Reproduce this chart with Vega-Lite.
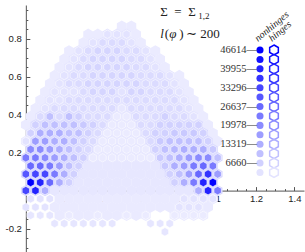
{
"$schema":"https://vega.github.io/schema/vega-lite/v6.json",
"width":282,"height":247,"autosize":"none",
"padding":{"left":22,"top":5,"right":1,"bottom":0},
"background":"white",
"config":{"view":{"stroke":null},"axis":{"grid":false,"domainColor":"#555","tickColor":"#555","labelColor":"#222","labelFont":"Liberation Sans","labelFontSize":9.5,"zindex":1}},
"datasets":{"cells":[
{"x":0.5,"y":0.866,"h":1700},{"x":0.55,"y":0.866,"h":1700},
{"x":0.325,"y":0.823,"h":1700},{"x":0.375,"y":0.823,"h":1700},{"x":0.425,"y":0.823,"h":3000,"n":3330},{"x":0.475,"y":0.823,"h":3000,"n":3330},{"x":0.525,"y":0.823,"h":3000,"n":3330},{"x":0.575,"y":0.823,"h":1700},
{"x":0.3,"y":0.779,"h":1700},{"x":0.35,"y":0.779,"h":3000,"n":3330},{"x":0.4,"y":0.779,"h":4000,"n":4700},{"x":0.45,"y":0.779,"h":4000,"n":4700},{"x":0.5,"y":0.779,"h":4000,"n":4700},{"x":0.55,"y":0.779,"h":3000,"n":3330},{"x":0.6,"y":0.779,"h":1700},
{"x":0.225,"y":0.736,"h":1700},{"x":0.275,"y":0.736,"h":3000,"n":3330},{"x":0.325,"y":0.736,"h":4000,"n":4700},{"x":0.375,"y":0.736,"h":4000,"n":6000},{"x":0.425,"y":0.736,"h":4000,"n":6000},{"x":0.475,"y":0.736,"h":4000,"n":6000},{"x":0.525,"y":0.736,"h":4000,"n":4700},{"x":0.575,"y":0.736,"h":4000,"n":4700},{"x":0.625,"y":0.736,"h":3000,"n":3330},{"x":0.675,"y":0.736,"h":1700},
{"x":0.2,"y":0.693,"h":1700},{"x":0.25,"y":0.693,"h":3000,"n":3330},{"x":0.3,"y":0.693,"h":4000,"n":4700},{"x":0.35,"y":0.693,"h":4000,"n":6000},{"x":0.4,"y":0.693,"h":4000,"n":6000},{"x":0.45,"y":0.693,"h":4000,"n":6000},{"x":0.5,"y":0.693,"h":4000,"n":6000},{"x":0.55,"y":0.693,"h":4000,"n":4700},{"x":0.6,"y":0.693,"h":4000,"n":4700},{"x":0.65,"y":0.693,"h":3000,"n":3330},{"x":0.7,"y":0.693,"h":1700},
{"x":0.175,"y":0.65,"h":1700},{"x":0.225,"y":0.65,"h":3000,"n":3330},{"x":0.275,"y":0.65,"h":4000,"n":4700},{"x":0.325,"y":0.65,"h":4000,"n":6000},{"x":0.375,"y":0.65,"h":4000,"n":6000},{"x":0.425,"y":0.65,"h":4000,"n":6000},{"x":0.475,"y":0.65,"h":4000,"n":6000},{"x":0.525,"y":0.65,"h":4000,"n":6000},{"x":0.575,"y":0.65,"h":4000,"n":4700},{"x":0.625,"y":0.65,"h":4000,"n":4700},{"x":0.675,"y":0.65,"h":3000,"n":3330},{"x":0.725,"y":0.65,"h":1700},
{"x":0.15,"y":0.606,"h":1700},{"x":0.2,"y":0.606,"h":3000,"n":3330},{"x":0.25,"y":0.606,"h":4000,"n":4700},{"x":0.3,"y":0.606,"h":4000,"n":4700},{"x":0.35,"y":0.606,"h":4000,"n":6000},{"x":0.4,"y":0.606,"h":4000,"n":6000},{"x":0.45,"y":0.606,"h":4000,"n":6000},{"x":0.5,"y":0.606,"h":4000,"n":6000},{"x":0.55,"y":0.606,"h":4000,"n":6000},{"x":0.6,"y":0.606,"h":4000,"n":4700},{"x":0.65,"y":0.606,"h":4000,"n":4700},{"x":0.7,"y":0.606,"h":4000,"n":4700},{"x":0.75,"y":0.606,"h":3000,"n":3330},{"x":0.8,"y":0.606,"h":1700},
{"x":0.125,"y":0.563,"h":1700},{"x":0.175,"y":0.563,"h":3000,"n":3330},{"x":0.225,"y":0.563,"h":4000,"n":4700},{"x":0.275,"y":0.563,"h":4000,"n":4700},{"x":0.325,"y":0.563,"h":4000,"n":6000},{"x":0.375,"y":0.563,"h":4000,"n":6000},{"x":0.425,"y":0.563,"h":4000,"n":6000},{"x":0.475,"y":0.563,"h":4000,"n":6000},{"x":0.525,"y":0.563,"h":4000,"n":6000},{"x":0.575,"y":0.563,"h":4000,"n":6000},{"x":0.625,"y":0.563,"h":4000,"n":4700},{"x":0.675,"y":0.563,"h":4000,"n":4700},{"x":0.725,"y":0.563,"h":4000,"n":4700},{"x":0.775,"y":0.563,"h":3000,"n":3330},{"x":0.825,"y":0.563,"h":1700},
{"x":0.1,"y":0.52,"h":1700},{"x":0.15,"y":0.52,"h":3000,"n":3330},{"x":0.2,"y":0.52,"h":3000,"n":3330},{"x":0.25,"y":0.52,"h":3000,"n":3330},{"x":0.3,"y":0.52,"h":4000,"n":4700},{"x":0.35,"y":0.52,"h":4000,"n":6000},{"x":0.4,"y":0.52,"h":4000,"n":6000},{"x":0.45,"y":0.52,"h":4000,"n":6000},{"x":0.5,"y":0.52,"h":4000,"n":3330},{"x":0.55,"y":0.52,"h":4000,"n":6000},{"x":0.6,"y":0.52,"h":4000,"n":6000},{"x":0.65,"y":0.52,"h":4000,"n":4700},{"x":0.7,"y":0.52,"h":4000,"n":4700},{"x":0.75,"y":0.52,"h":4000,"n":4700},{"x":0.8,"y":0.52,"h":3000,"n":3330},{"x":0.85,"y":0.52,"h":1700},
{"x":0.075,"y":0.476,"h":1700},{"x":0.125,"y":0.476,"h":3000,"n":3330},{"x":0.175,"y":0.476,"h":3000,"n":3330},{"x":0.225,"y":0.476,"h":4000,"n":4700},{"x":0.275,"y":0.476,"h":4000,"n":4700},{"x":0.325,"y":0.476,"h":4000,"n":4700},{"x":0.375,"y":0.476,"h":4000,"n":4700},{"x":0.425,"y":0.476,"h":4000,"n":4700},{"x":0.475,"y":0.476,"h":4000,"n":4700},{"x":0.525,"y":0.476,"h":4000,"n":4700},{"x":0.575,"y":0.476,"h":4000,"n":4700},{"x":0.625,"y":0.476,"h":4000,"n":4700},{"x":0.675,"y":0.476,"h":4000,"n":4700},{"x":0.725,"y":0.476,"h":4000,"n":4700},{"x":0.775,"y":0.476,"h":4000,"n":4700},{"x":0.825,"y":0.476,"h":3000,"n":3330},{"x":0.875,"y":0.476,"h":1700},
{"x":0.05,"y":0.433,"h":1700},{"x":0.1,"y":0.433,"h":3000,"n":3330},{"x":0.15,"y":0.433,"h":4000,"n":4700},{"x":0.2,"y":0.433,"h":4000,"n":4700},{"x":0.25,"y":0.433,"h":4000,"n":4700},{"x":0.3,"y":0.433,"h":4000,"n":4700},{"x":0.35,"y":0.433,"h":4000,"n":4700},{"x":0.4,"y":0.433,"h":4000,"n":4700},{"x":0.45,"y":0.433,"h":4000,"n":4700},{"x":0.5,"y":0.433,"h":3000,"n":2300},{"x":0.55,"y":0.433,"h":4000,"n":4700},{"x":0.6,"y":0.433,"h":4000,"n":4700},{"x":0.65,"y":0.433,"h":4000,"n":4700},{"x":0.7,"y":0.433,"h":4000,"n":4700},{"x":0.75,"y":0.433,"h":4000,"n":4700},{"x":0.8,"y":0.433,"h":4000,"n":4700},{"x":0.85,"y":0.433,"h":3000,"n":3330},{"x":0.9,"y":0.433,"h":1700},
{"x":0.025,"y":0.39,"h":1700},{"x":0.075,"y":0.39,"h":4000,"n":4700},{"x":0.125,"y":0.39,"h":5330,"n":10000},{"x":0.175,"y":0.39,"h":4000,"n":4700},{"x":0.225,"y":0.39,"h":5330,"n":10000},{"x":0.275,"y":0.39,"h":5330,"n":6660},{"x":0.325,"y":0.39,"h":4000,"n":4700},{"x":0.375,"y":0.39,"h":4000,"n":4700},{"x":0.425,"y":0.39,"h":4000,"n":4700},{"x":0.475,"y":0.39,"h":2700,"n":1800},{"x":0.525,"y":0.39,"h":2700,"n":1800},{"x":0.575,"y":0.39,"h":4000,"n":4700},{"x":0.625,"y":0.39,"h":4000,"n":4700},{"x":0.675,"y":0.39,"h":4000,"n":4700},{"x":0.725,"y":0.39,"h":5330,"n":6660},{"x":0.775,"y":0.39,"h":4000,"n":4700},{"x":0.825,"y":0.39,"h":4000,"n":4700},{"x":0.875,"y":0.39,"h":3000,"n":3330},{"x":0.925,"y":0.39,"h":1700},
{"x":0,"y":0.346,"h":1700},{"x":0.05,"y":0.346,"h":5330,"n":6660},{"x":0.1,"y":0.346,"h":5330,"n":10000},{"x":0.15,"y":0.346,"h":5330,"n":10000},{"x":0.2,"y":0.346,"h":5330,"n":10000},{"x":0.25,"y":0.346,"h":5330,"n":10000},{"x":0.3,"y":0.346,"h":5330,"n":8300},{"x":0.35,"y":0.346,"h":5330,"n":6660},{"x":0.4,"y":0.346,"h":4000,"n":4700},{"x":0.45,"y":0.346,"h":2700,"n":1800},{"x":0.5,"y":0.346,"h":2700,"n":1800},{"x":0.55,"y":0.346,"h":2700,"n":1800},{"x":0.6,"y":0.346,"h":4000,"n":4700},{"x":0.65,"y":0.346,"h":4000,"n":4700},{"x":0.7,"y":0.346,"h":5330,"n":6660},{"x":0.75,"y":0.346,"h":5330,"n":6660},{"x":0.8,"y":0.346,"h":5330,"n":6660},{"x":0.85,"y":0.346,"h":5330,"n":6660},{"x":0.9,"y":0.346,"h":5330,"n":6660},{"x":0.95,"y":0.346,"h":1700},
{"x":0.025,"y":0.303,"h":3000,"n":6660},{"x":0.075,"y":0.303,"h":5330,"n":13300},{"x":0.125,"y":0.303,"h":5330,"n":13300},{"x":0.175,"y":0.303,"h":5330,"n":13300},{"x":0.225,"y":0.303,"h":5330,"n":10000},{"x":0.275,"y":0.303,"h":5330,"n":10000},{"x":0.325,"y":0.303,"h":5330,"n":6660},{"x":0.375,"y":0.303,"h":4000,"n":4700},{"x":0.425,"y":0.303,"h":2700,"n":1800},{"x":0.475,"y":0.303,"h":2700,"n":1800},{"x":0.525,"y":0.303,"h":2700,"n":1800},{"x":0.575,"y":0.303,"h":2700,"n":1800},{"x":0.625,"y":0.303,"h":4000,"n":4700},{"x":0.675,"y":0.303,"h":5330,"n":6660},{"x":0.725,"y":0.303,"h":5330,"n":6660},{"x":0.775,"y":0.303,"h":5330,"n":8300},{"x":0.825,"y":0.303,"h":5330,"n":8300},{"x":0.875,"y":0.303,"h":5330,"n":8300},{"x":0.925,"y":0.303,"h":5330,"n":6660},{"x":0.975,"y":0.303,"h":1700},
{"x":0,"y":0.26,"h":2000,"n":3330},{"x":0.05,"y":0.26,"h":5330,"n":16650},{"x":0.1,"y":0.26,"h":5330,"n":16650},{"x":0.15,"y":0.26,"h":5330,"n":13300},{"x":0.2,"y":0.26,"h":5330,"n":13300},{"x":0.25,"y":0.26,"h":5330,"n":10000},{"x":0.3,"y":0.26,"h":5330,"n":6660},{"x":0.35,"y":0.26,"h":4000,"n":4700},{"x":0.4,"y":0.26,"h":2700,"n":1800},{"x":0.45,"y":0.26,"h":2700,"n":1800},{"x":0.5,"y":0.26,"h":2700,"n":1800},{"x":0.55,"y":0.26,"h":2700,"n":1800},{"x":0.6,"y":0.26,"h":2700,"n":1800},{"x":0.65,"y":0.26,"h":5330,"n":5000},{"x":0.7,"y":0.26,"h":5330,"n":8300},{"x":0.75,"y":0.26,"h":5330,"n":10000},{"x":0.8,"y":0.26,"h":5330,"n":10000},{"x":0.85,"y":0.26,"h":5330,"n":10000},{"x":0.9,"y":0.26,"h":5330,"n":10000},{"x":0.95,"y":0.26,"h":5330,"n":6660},{"x":1,"y":0.26,"h":1700},
{"x":0.025,"y":0.217,"h":5330,"n":20000},{"x":0.075,"y":0.217,"h":5330,"n":20000},{"x":0.125,"y":0.217,"h":5330,"n":16650},{"x":0.175,"y":0.217,"h":5330,"n":13300},{"x":0.225,"y":0.217,"h":5330,"n":10000},{"x":0.275,"y":0.217,"h":5330,"n":6660},{"x":0.325,"y":0.217,"h":5330,"n":5000},{"x":0.375,"y":0.217,"h":2700,"n":1800},{"x":0.425,"y":0.217,"h":2700,"n":1800},{"x":0.475,"y":0.217,"h":2700,"n":1800},{"x":0.525,"y":0.217,"h":2700,"n":1800},{"x":0.575,"y":0.217,"h":2700,"n":1800},{"x":0.625,"y":0.217,"h":2700,"n":1800},{"x":0.675,"y":0.217,"h":5330,"n":6660},{"x":0.725,"y":0.217,"h":5330,"n":10000},{"x":0.775,"y":0.217,"h":5330,"n":11650},{"x":0.825,"y":0.217,"h":5330,"n":13300},{"x":0.875,"y":0.217,"h":5330,"n":13300},{"x":0.925,"y":0.217,"h":5330,"n":13300},{"x":0.975,"y":0.217,"h":5330,"n":8300},
{"x":0,"y":0.173,"h":5330,"n":23300},{"x":0.05,"y":0.173,"h":5330,"n":23300},{"x":0.1,"y":0.173,"h":5330,"n":20000},{"x":0.15,"y":0.173,"h":5330,"n":16650},{"x":0.2,"y":0.173,"h":5330,"n":13300},{"x":0.25,"y":0.173,"h":5330,"n":10000},{"x":0.3,"y":0.173,"h":5330,"n":6660},{"x":0.35,"y":0.173,"h":2700,"n":1800},{"x":0.4,"y":0.173,"h":2700,"n":1800},{"x":0.45,"y":0.173,"h":2700,"n":1800},{"x":0.5,"y":0.173,"h":2700,"n":1800},{"x":0.55,"y":0.173,"h":2700,"n":1800},{"x":0.6,"y":0.173,"h":2700,"n":1800},{"x":0.65,"y":0.173,"h":2700,"n":1800},{"x":0.7,"y":0.173,"h":5330,"n":8300},{"x":0.75,"y":0.173,"h":5330,"n":10000},{"x":0.8,"y":0.173,"h":5330,"n":13300},{"x":0.85,"y":0.173,"h":5330,"n":16650},{"x":0.9,"y":0.173,"h":5330,"n":20000},{"x":0.95,"y":0.173,"h":5330,"n":20000},{"x":1,"y":0.173,"h":5330,"n":10000},
{"x":0.025,"y":0.13,"h":5330,"n":26600},{"x":0.075,"y":0.13,"h":5330,"n":26600},{"x":0.125,"y":0.13,"h":5330,"n":23300},{"x":0.175,"y":0.13,"h":5330,"n":16650},{"x":0.225,"y":0.13,"h":5330,"n":10000},{"x":0.275,"y":0.13,"h":5330,"n":6660},{"x":0.325,"y":0.13,"h":2500},{"x":0.375,"y":0.13,"h":2500},{"x":0.425,"y":0.13,"h":2500},{"x":0.475,"y":0.13,"h":2500},{"x":0.525,"y":0.13,"h":2500},{"x":0.575,"y":0.13,"h":2500},{"x":0.625,"y":0.13,"h":2500},{"x":0.675,"y":0.13,"h":2500},{"x":0.725,"y":0.13,"h":5330,"n":8300},{"x":0.775,"y":0.13,"h":5330,"n":13300},{"x":0.825,"y":0.13,"h":5330,"n":16650},{"x":0.875,"y":0.13,"h":5330,"n":23300},{"x":0.925,"y":0.13,"h":5330,"n":26600},{"x":0.975,"y":0.13,"h":5330,"n":23300},
{"x":0,"y":0.087,"h":5330,"n":30000},{"x":0.05,"y":0.087,"h":5330,"n":33300},{"x":0.1,"y":0.087,"h":5330,"n":33300},{"x":0.15,"y":0.087,"h":5330,"n":23300},{"x":0.2,"y":0.087,"h":5330,"n":13300},{"x":0.25,"y":0.087,"h":5330,"n":6660},{"x":0.3,"y":0.087,"h":2500},{"x":0.35,"y":0.087,"h":2500},{"x":0.4,"y":0.087,"h":2500},{"x":0.45,"y":0.087,"h":2500},{"x":0.5,"y":0.087,"h":2500},{"x":0.55,"y":0.087,"h":2500},{"x":0.6,"y":0.087,"h":2500},{"x":0.65,"y":0.087,"h":2500},{"x":0.7,"y":0.087,"h":2500},{"x":0.75,"y":0.087,"h":5330,"n":6660},{"x":0.8,"y":0.087,"h":5330,"n":10000},{"x":0.85,"y":0.087,"h":5330,"n":16650},{"x":0.9,"y":0.087,"h":5330,"n":26600},{"x":0.95,"y":0.087,"h":5330,"n":36600},{"x":1,"y":0.087,"h":5330,"n":16650},
{"x":0.025,"y":0.043,"h":5330,"n":46614},{"x":0.075,"y":0.043,"h":5330,"n":40000},{"x":0.125,"y":0.043,"h":5330,"n":26600},{"x":0.175,"y":0.043,"h":5330,"n":13300},{"x":0.225,"y":0.043,"h":5330,"n":6660},{"x":0.275,"y":0.043,"h":2500},{"x":0.325,"y":0.043,"h":2500},{"x":0.375,"y":0.043,"h":2500},{"x":0.425,"y":0.043,"h":2500},{"x":0.475,"y":0.043,"h":2500},{"x":0.525,"y":0.043,"h":2500},{"x":0.575,"y":0.043,"h":2500},{"x":0.625,"y":0.043,"h":2500},{"x":0.675,"y":0.043,"h":2500},{"x":0.725,"y":0.043,"h":2500},{"x":0.775,"y":0.043,"h":5330,"n":6660},{"x":0.825,"y":0.043,"h":5330,"n":13300},{"x":0.875,"y":0.043,"h":5330,"n":23300},{"x":0.925,"y":0.043,"h":5330,"n":40000},{"x":0.975,"y":0.043,"h":5330,"n":46614},
{"x":0,"y":0,"h":5330,"n":33300},{"x":0.05,"y":0,"h":5330,"n":40000},{"x":0.1,"y":0,"h":5330,"n":13300},{"x":0.15,"y":0,"h":2500},{"x":0.2,"y":0,"h":2500},{"x":0.25,"y":0,"h":2500},{"x":0.3,"y":0,"h":2500},{"x":0.35,"y":0,"h":2500},{"x":0.4,"y":0,"h":2500},{"x":0.45,"y":0,"h":2500},{"x":0.5,"y":0,"h":2500},{"x":0.55,"y":0,"h":2500},{"x":0.6,"y":0,"h":2500},{"x":0.65,"y":0,"h":2500},{"x":0.7,"y":0,"h":2500},{"x":0.75,"y":0,"h":2500},{"x":0.8,"y":0,"h":2500},{"x":0.85,"y":0,"h":2500},{"x":0.9,"y":0,"h":5330,"n":13300},{"x":0.95,"y":0,"h":5330,"n":40000},{"x":1,"y":0,"h":5330,"n":23300},
{"x":0.025,"y":-0.043,"n":3330},{"x":0.075,"y":-0.043,"n":3330},{"x":0.125,"y":-0.043,"n":3330},{"x":0.175,"y":-0.043,"h":2000},{"x":0.225,"y":-0.043,"h":2000},{"x":0.275,"y":-0.043,"h":2000},{"x":0.325,"y":-0.043,"h":2000},{"x":0.375,"y":-0.043,"h":2000},{"x":0.425,"y":-0.043,"h":2000},{"x":0.475,"y":-0.043,"h":2000},{"x":0.525,"y":-0.043,"h":2000},{"x":0.575,"y":-0.043,"h":2000},{"x":0.625,"y":-0.043,"h":2000},{"x":0.675,"y":-0.043,"h":2000},{"x":0.725,"y":-0.043,"h":2000},{"x":0.775,"y":-0.043,"h":2000},{"x":0.825,"y":-0.043,"h":2000,"n":3330},{"x":0.875,"y":-0.043,"h":2000,"n":3330},{"x":0.925,"y":-0.043,"h":2000,"n":3330},{"x":0.975,"y":-0.043,"h":2000,"n":3330},
{"x":0,"y":-0.087,"n":3330},{"x":0.05,"y":-0.087,"n":3330},{"x":0.1,"y":-0.087,"n":3330},{"x":0.15,"y":-0.087,"h":2000},{"x":0.2,"y":-0.087,"h":2000},{"x":0.25,"y":-0.087,"h":2000},{"x":0.3,"y":-0.087,"h":2000},{"x":0.35,"y":-0.087,"h":2000},{"x":0.4,"y":-0.087,"h":2000},{"x":0.45,"y":-0.087,"h":2000},{"x":0.5,"y":-0.087,"h":2000},{"x":0.55,"y":-0.087,"h":2000},{"x":0.6,"y":-0.087,"h":2000},{"x":0.65,"y":-0.087,"h":2000},{"x":0.7,"y":-0.087,"h":2000},{"x":0.75,"y":-0.087,"h":2000},{"x":0.8,"y":-0.087,"h":2000,"n":3330},{"x":0.85,"y":-0.087,"h":2000,"n":3330},{"x":0.9,"y":-0.087,"h":2000,"n":3330},{"x":0.95,"y":-0.087,"h":2000},
{"x":0.025,"y":-0.13,"n":2700},{"x":0.075,"y":-0.13,"n":2700},{"x":0.125,"y":-0.13,"n":2700},{"x":0.175,"y":-0.13,"h":2000},{"x":0.225,"y":-0.13,"h":2000,"n":1700},{"x":0.275,"y":-0.13,"h":2000},{"x":0.325,"y":-0.13,"h":2000},{"x":0.375,"y":-0.13,"h":2000,"n":1700},{"x":0.425,"y":-0.13,"h":2000},{"x":0.475,"y":-0.13,"h":2000},{"x":0.525,"y":-0.13,"h":2000,"n":1700},{"x":0.575,"y":-0.13,"h":2000},{"x":0.625,"y":-0.13,"h":2000,"n":1700},{"x":0.775,"y":-0.13,"h":2000,"n":1700},{"x":0.825,"y":-0.13,"h":2000,"n":1700},{"x":0.875,"y":-0.13,"h":2000,"n":1700},{"x":0.925,"y":-0.13,"h":2000,"n":1700},
{"x":0.15,"y":-0.173,"n":2700},{"x":0.2,"y":-0.173,"n":2700},{"x":0.25,"y":-0.173,"n":2700},{"x":0.3,"y":-0.173,"n":2700},{"x":0.35,"y":-0.173,"n":2700},{"x":0.4,"y":-0.173,"n":2700},{"x":0.45,"y":-0.173,"n":2700},{"x":0.65,"y":-0.173,"n":2700},{"x":0.7,"y":-0.173,"n":2700},{"x":0.75,"y":-0.173,"n":2700},
{"x":0.725,"y":-0.217,"n":2700}
]},
"layer":[
 {"layer":[
   {"data":{"name":"cells"},"transform":[{"filter":"isValid(datum.h)"}],
    "mark":{"type":"point","shape":"M0,-1L0.866,-0.5L0.866,0.5L0,1L-0.866,0.5L-0.866,-0.5Z","filled":true,"size":128,"opacity":1,"strokeWidth":0},
    "encoding":{
      "x":{"field":"x","type":"quantitative","scale":{"domain":[-0.02,1.45],"nice":false,"zero":false},
           "axis":{"title":null,"offset":-61.4,"values":[0.2,0.4,0.6,0.8,1,1.2,1.4],"format":"~g","tickSize":-4,"labelPadding":7,"labelFlush":false,"labelOverlap":false,"domainWidth":1}},
      "y":{"field":"y","type":"quantitative","scale":{"domain":[-0.323,0.977],"nice":false,"zero":false},
           "axis":{"title":null,"offset":-3.84,"values":[-0.2,0.2,0.4,0.6,0.8],"labelExpr":"replace(format(datum.value,'~g'),'\u2212','-')","tickSize":-4,"labelPadding":8.5,"labelFlush":false,"labelOverlap":false,"domainWidth":1}},
      "color":{"field":"h","type":"quantitative","scale":{"domain":[0,46614],"range":["#f4f4ff","#0000ff"],"interpolate":"rgb"},"legend":null}}},
   {"data":{"name":"cells"},"transform":[{"filter":"isValid(datum.n)"}],
    "mark":{"type":"point","shape":"M0,-1L0.866,-0.5L0.866,0.5L0,1L-0.866,0.5L-0.866,-0.5Z","filled":true,"size":72,"opacity":1,"stroke":"white","strokeWidth":0.8,"strokeOpacity":0.7},
    "encoding":{
      "x":{"field":"x","type":"quantitative","scale":{"domain":[-0.02,1.45],"nice":false,"zero":false},
           "axis":{"title":null,"orient":"bottom","offset":-61.4,"values":[0.05,0.1,0.15,0.25,0.3,0.35,0.45,0.5,0.55,0.65,0.7,0.75,0.85,0.9,0.95,1.05,1.1,1.15,1.25,1.3,1.35],"labels":false,"domain":false,"tickSize":-2}},
      "y":{"field":"y","type":"quantitative","scale":{"domain":[-0.323,0.977],"nice":false,"zero":false},
           "axis":{"title":null,"orient":"left","offset":-3.84,"values":[-0.3,-0.25,-0.15,-0.1,-0.05,0.05,0.1,0.15,0.25,0.3,0.35,0.45,0.5,0.55,0.65,0.7,0.75,0.85,0.9,0.95],"labels":false,"domain":false,"tickSize":-2}},
      "color":{"field":"n","type":"quantitative","scale":{"domain":[0,46614],"range":["#f4f4ff","#0000ff"],"interpolate":"rgb"},"legend":null}}},
   {"data":{"values":[{"x":0.7005,"y":0.919,"t":"Σ"},{"x":0.7734,"y":0.919,"t":"="},{"x":0.8464,"y":0.919,"t":"Σ"},{"x":0.724,"y":0.8037,"t":"("},{"x":0.7995,"y":0.8037,"t":")"},{"x":0.8359,"y":0.8037,"t":"∼"},{"x":0.9089,"y":0.8037,"t":"200"}]},
    "mark":{"type":"text","align":"left","baseline":"alphabetic","font":"Liberation Serif","fontSize":13,"color":"#222"},
    "encoding":{"x":{"field":"x","type":"quantitative","scale":{"domain":[-0.02,1.45],"nice":false,"zero":false},"axis":null},
                "y":{"field":"y","type":"quantitative","scale":{"domain":[-0.323,0.977],"nice":false,"zero":false},"axis":null},
                "text":{"field":"t"}}},
   {"data":{"values":[{"x":0.8984,"y":0.904,"t":"1,2"}]},
    "mark":{"type":"text","align":"left","baseline":"alphabetic","font":"Liberation Serif","fontSize":9,"color":"#222"},
    "encoding":{"x":{"field":"x","type":"quantitative","scale":{"domain":[-0.02,1.45],"nice":false,"zero":false},"axis":null},
                "y":{"field":"y","type":"quantitative","scale":{"domain":[-0.323,0.977],"nice":false,"zero":false},"axis":null},
                "text":{"field":"t"}}},
   {"data":{"values":[{"x":0.7005,"y":0.8037,"t":"l"},{"x":0.7474,"y":0.8037,"t":"φ"}]},
    "mark":{"type":"text","align":"left","baseline":"alphabetic","font":"Liberation Serif","fontSize":13,"fontStyle":"italic","color":"#222"},
    "encoding":{"x":{"field":"x","type":"quantitative","scale":{"domain":[-0.02,1.45],"nice":false,"zero":false},"axis":null},
                "y":{"field":"y","type":"quantitative","scale":{"domain":[-0.323,0.977],"nice":false,"zero":false},"axis":null},
                "text":{"field":"t"}}}
  ],
  "resolve":{"axis":{"x":"independent","y":"independent"}}},
 {"data":{"values":[{"v":46614,"lab":"46614—"},{"v":43284,"lab":""},{"v":39955,"lab":"39955—"},{"v":36625,"lab":""},{"v":33296,"lab":"33296—"},{"v":29966,"lab":""},{"v":26637,"lab":"26637—"},{"v":23307,"lab":""},{"v":19978,"lab":"19978—"},{"v":16648,"lab":""},{"v":13319,"lab":"13319—"},{"v":9989,"lab":""},{"v":6660,"lab":"6660—"},{"v":3330,"lab":""}]},
  "layer":[
   {"mark":{"type":"point","shape":"circle","filled":true,"size":50,"opacity":1,"strokeWidth":0},
    "encoding":{"x":{"datum":"nonhinges","type":"nominal","scale":{"type":"point","domain":["nonhinges","hinges"],"range":[238,252],"padding":0},"axis":null},
                "y":{"field":"v","type":"quantitative","scale":{"domain":[3330,46614],"range":[167.5,45],"zero":false,"nice":false},"axis":null},
                "color":{"field":"v","type":"quantitative","scale":{"domain":[0,46614],"range":["#f4f4ff","#0000ff"],"interpolate":"rgb"},"legend":null}}},
   {"mark":{"type":"point","shape":"M0,-1L0.866,-0.5L0.866,0.5L0,1L-0.866,0.5L-0.866,-0.5Z","filled":false,"size":100,"opacity":1,"strokeWidth":1.5},
    "encoding":{"x":{"datum":"hinges","type":"nominal","scale":{"type":"point","domain":["nonhinges","hinges"],"range":[238,252],"padding":0},"axis":null},
                "y":{"field":"v","type":"quantitative","scale":{"domain":[3330,46614],"range":[167.5,45],"zero":false,"nice":false},"axis":null},
                "color":{"field":"v","type":"quantitative","scale":{"domain":[0,46614],"range":["#f4f4ff","#0000ff"],"interpolate":"rgb"},"legend":null}}},
   {"transform":[{"filter":"datum.lab != ''"}],
    "mark":{"type":"text","align":"right","baseline":"middle","dx":-3,"font":"Liberation Serif","fontSize":10.5,"color":"#333"},
    "encoding":{"x":{"datum":"nonhinges","type":"nominal","scale":{"type":"point","domain":["nonhinges","hinges"],"range":[238,252],"padding":0},"axis":null},
                "y":{"field":"v","type":"quantitative","scale":{"domain":[3330,46614],"range":[167.5,45],"zero":false,"nice":false},"axis":null},
                "text":{"field":"lab"}}},
   {"data":{"values":[{"c":"nonhinges"},{"c":"hinges"}]},
    "mark":{"type":"text","align":"left","baseline":"alphabetic","angle":-40,"dx":3.6,"dy":-7.4,"fontStyle":"italic","font":"Liberation Serif","fontSize":10,"color":"#222"},
    "encoding":{"x":{"field":"c","type":"nominal","scale":{"type":"point","domain":["nonhinges","hinges"],"range":[238,252],"padding":0},"axis":null},
                "y":{"datum":46614,"type":"quantitative","scale":{"domain":[3330,46614],"range":[167.5,45],"zero":false,"nice":false},"axis":null},
                "text":{"field":"c"}}}
  ]}
],
"resolve":{"scale":{"x":"independent","y":"independent"}}
}
